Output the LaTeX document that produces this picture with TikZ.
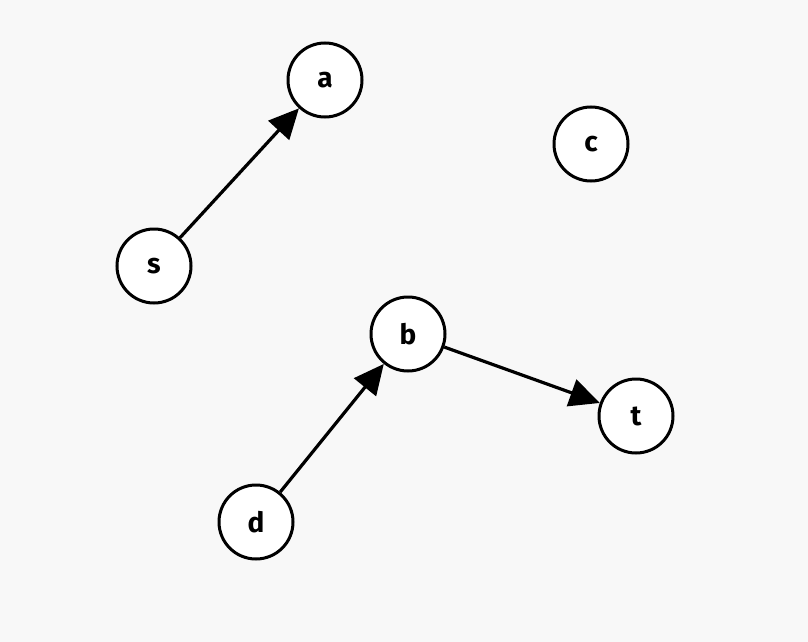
\documentclass[tikz,border=0pt]{standalone}
\usepackage{fontspec}
\setmainfont{Fira Sans}
\usetikzlibrary{arrows.meta}
\definecolor{bg}{HTML}{F8F8F8}
\tikzset{
  vertex/.style={circle, draw=black, fill=white, line width=3pt, minimum size=74pt, inner sep=0pt, font=\fontsize{28}{32}\selectfont\bfseries},
  edge/.style={line width=3.2pt, -{Triangle[length=30pt,width=28pt]}}
}
\begin{document}
\begin{tikzpicture}[x=1pt,y=-1pt]
\fill[bg] (0,0) rectangle (808,642);
\useasboundingbox (0,0) rectangle (808,642);
\node[vertex] (a) at (325,80) {a};
\node[vertex] (c) at (591,144) {c};
\node[vertex] (s) at (154,266) {s};
\node[vertex] (b) at (408,334) {b};
\node[vertex] (t) at (636,416) {t};
\node[vertex] (d) at (256,522) {d};
\draw[edge] (s) -- (a);
\draw[edge] (d) -- (b);
\draw[edge] (b) -- (t);
\end{tikzpicture}
\end{document}
